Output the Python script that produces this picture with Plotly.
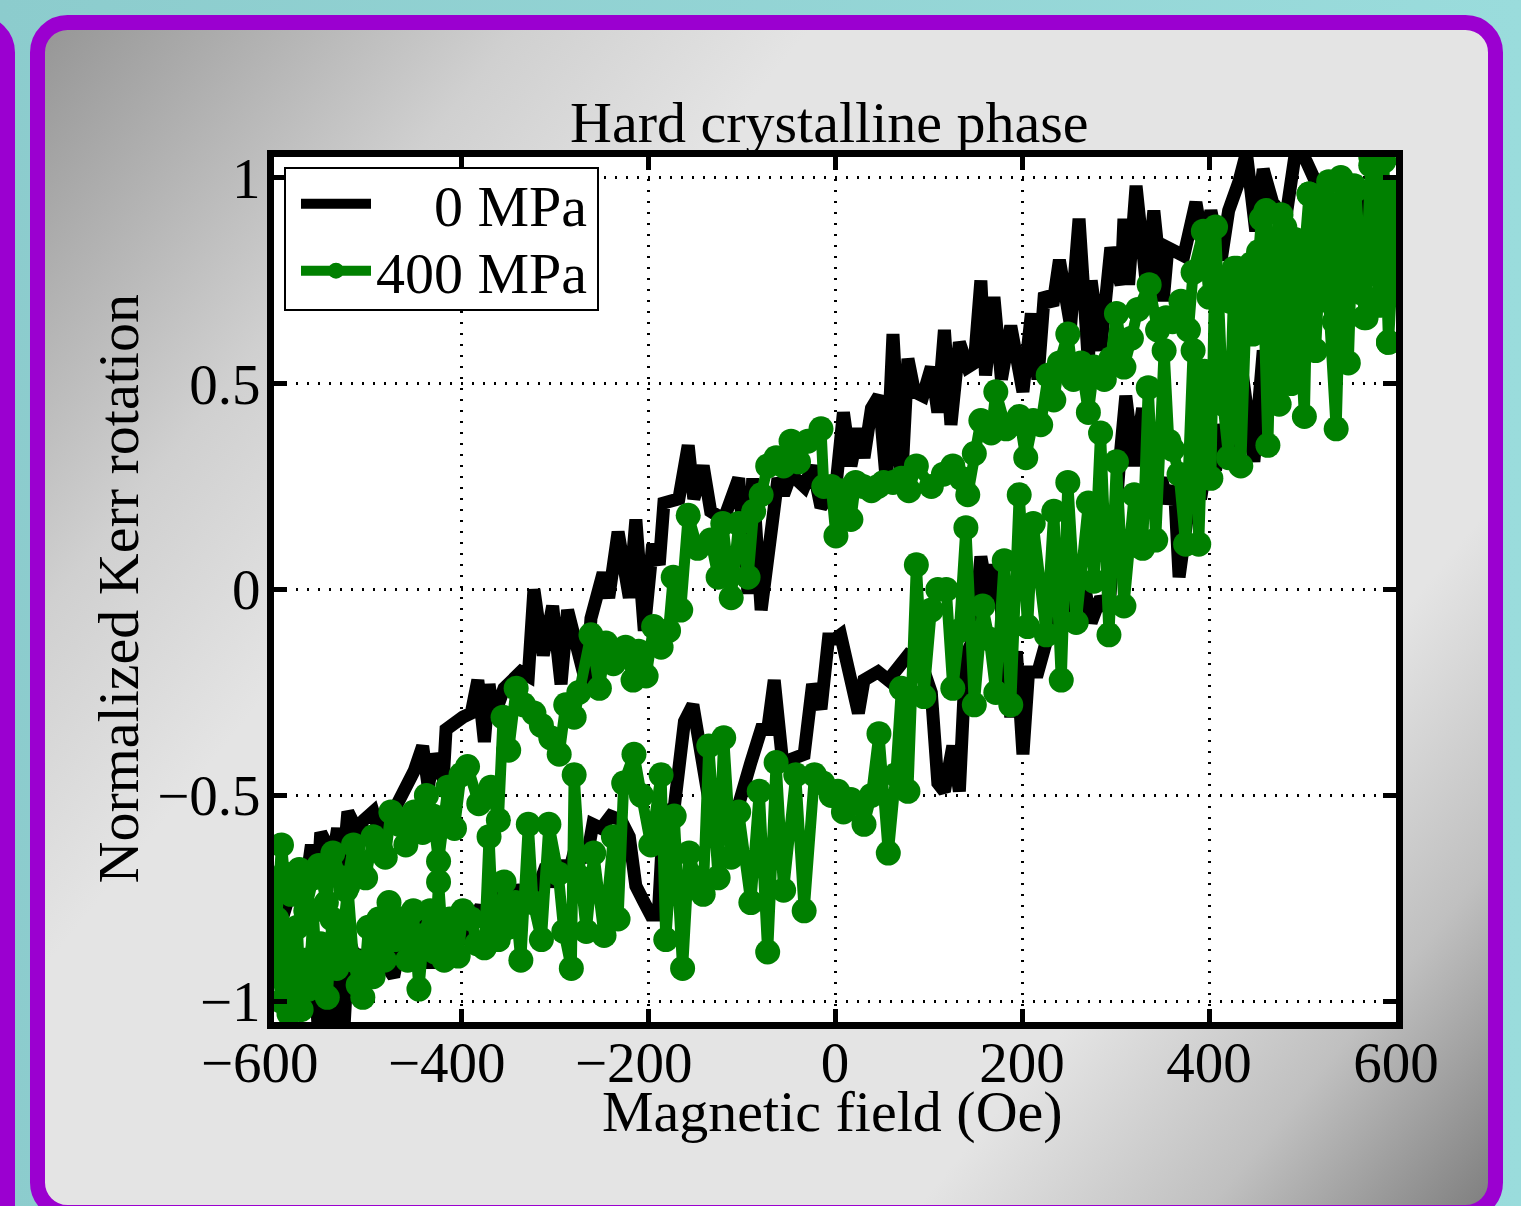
import base64
import plotly.graph_objects as go

# ---------------- data ----------------
# 0 MPa, field decreasing (upper branch)
field_0_desc = [600, 589, 582, 568, 557, 547, 536, 525, 518, 504,
                493, 482, 468, 458, 450, 440, 432, 421, 413, 402,
                395, 386, 373, 365, 356, 351, 341, 333, 322, 314,
                309, 306, 295, 284, 274, 271, 261, 252, 240, 233,
                224, 217, 210, 201, 188, 178, 170, 161, 156, 149,
                142, 133, 124, 117, 110, 103, 94, 85, 78, 71,
                62, 55, 47, 39, 31, 25, 17, 9, 1, -15,
                -24, -33, -47, -55, -61, -79, -88, -93, -103, -119,
                -133, -141, -151, -157, -167, -183, -188, -195, -204, -213,
                -220, -232, -242, -248, -261, -266, -286, -293, -302, -312,
                -322, -328, -336, -354, -365, -370, -375, -382, -389, -398,
                -405, -416, -419, -429, -435, -441, -450, -459, -467, -477,
                -486, -494, -504, -510, -521, -526, -532, -537, -550, -553,
                -560, -568, -574, -582, -589, -598]
kerr_0_desc = [0.94, 0.70, 1.03, 0.80, 1.00, 0.82, 0.94, 0.73, 0.97, 1.04,
               1.07, 0.90, 0.94, 1.02, 0.87, 1.06, 0.99, 0.92, 0.80, 0.92,
               0.82, 0.94, 0.81, 0.82, 0.83, 0.70, 0.92, 0.74, 0.98, 0.74,
               0.90, 0.74, 0.83, 0.58, 0.75, 0.55, 0.90, 0.64, 0.80, 0.69,
               0.72, 0.51, 0.67, 0.48, 0.64, 0.51, 0.71, 0.52, 0.75, 0.55,
               0.54, 0.60, 0.40, 0.63, 0.43, 0.54, 0.47, 0.48, 0.56, 0.25,
               0.62, 0.26, 0.47, 0.44, 0.32, 0.39, 0.30, 0.43, 0.25, 0.20,
               0.30, 0.25, 0.28, 0.23, 0.27, -0.05, 0.27, -0.01, 0.27, 0.17,
               0.19, 0.30, 0.22, 0.35, 0.22, 0.21, 0.06, 0.11, -0.10, 0.17,
               -0.02, 0.14, -0.02, 0.04, -0.07, -0.23, -0.05, -0.23, -0.04, -0.16,
               0.00, -0.21, -0.20, -0.24, -0.31, -0.23, -0.37, -0.22, -0.30, -0.31,
               -0.32, -0.34, -0.46, -0.40, -0.48, -0.38, -0.44, -0.48, -0.50, -0.55,
               -0.60, -0.54, -0.56, -0.59, -0.54, -0.67, -0.58, -0.65, -0.59, -0.71,
               -0.62, -0.75, -0.71, -0.73, -0.78, -0.85]

# 0 MPa, field increasing (lower branch)
field_0_asc = [-598, -590, -582, -574, -566, -558, -552, -544, -539, -532,
               -526, -520, -512, -505, -498, -491, -486, -478, -472, -464,
               -453, -445, -437, -432, -426, -419, -411, -402, -395, -387,
               -379, -371, -363, -352, -344, -336, -328, -320, -309, -302,
               -293, -286, -277, -266, -259, -250, -240, -229, -220, -213,
               -204, -197, -189, -183, -172, -161, -152, -143, -135, -122,
               -104, -90, -79, -72, -65, -56, -45, -33, -24, -15,
               -7, 0, 6, 15, 25, 31, 39, 46, 57, 67,
               78, 87, 94, 103, 110, 117, 126, 133, 140, 148,
               156, 164, 170, 178, 188, 194, 201, 207, 217, 228,
               236, 244, 252, 265, 274, 284, 293, 304, 311, 320,
               329, 338, 349, 356, 363, 368, 375, 383, 391, 400,
               407, 415, 424, 434, 443, 448, 458, 466, 477, 488,
               498, 506, 512, 520, 530, 541, 550, 555, 563, 571,
               579, 588, 597]
kerr_0_asc = [-0.90, -0.97, -0.80, -0.92, -1.00, -0.85, -1.10, -0.95, -1.10, -0.88,
              -1.10, -0.85, -0.90, -0.88, -0.95, -0.82, -0.90, -0.92, -0.94, -0.85,
              -0.82, -0.86, -0.80, -0.92, -0.78, -0.84, -0.80, -0.77, -0.86, -0.80,
              -0.77, -0.82, -0.74, -0.79, -0.72, -0.76, -0.70, -0.74, -0.67, -0.72,
              -0.66, -0.70, -0.62, -0.66, -0.57, -0.58, -0.55, -0.56, -0.60, -0.72,
              -0.76, -0.79, -0.79, -0.54, -0.53, -0.32, -0.28, -0.43, -0.51, -0.52,
              -0.53, -0.42, -0.34, -0.34, -0.22, -0.42, -0.41, -0.40, -0.23, -0.29,
              -0.12, -0.12, -0.11, -0.20, -0.30, -0.22, -0.21, -0.20, -0.22, -0.19,
              -0.16, -0.17, -0.19, -0.25, -0.47, -0.49, -0.38, -0.49, -0.16, -0.12,
              0.08, -0.02, 0.06, -0.05, -0.31, -0.15, -0.40, -0.20, -0.20, -0.11,
              -0.02, -0.06, 0.00, 0.03, -0.08, -0.02, -0.05, 0.30, 0.47, 0.30,
              0.44, 0.22, 0.27, 0.21, 0.25, 0.03, 0.17, 0.28, 0.22, 0.35,
              0.29, 0.40, 0.34, 0.55, 0.40, 0.31, 0.58, 0.50, 0.65, 0.60,
              0.74, 0.85, 0.80, 0.87, 0.75, 0.88, 0.78, 0.74, 0.90, 0.82,
              0.95, 0.72, 0.80]

# 400 MPa, field decreasing (upper branch)
field_400_desc = [600, 592, 587, 581, 573, 566, 557, 550, 541, 534,
                  528, 520, 512, 507, 498, 492, 484, 477, 468, 461,
                  453, 445, 437, 430, 422, 415, 407, 400, 394, 383,
                  378, 370, 361, 354, 345, 336, 324, 317, 309, 301,
                  295, 288, 281, 277, 271, 263, 255, 249, 240, 234,
                  228, 220, 212, 204, 197, 188, 183, 172, 167, 156,
                  149, 142, 135, 126, 116, 103, 87, 79, 71, 62,
                  52, 46, 39, 30, 22, 17, 9, 1, -4, -12,
                  -15, -29, -39, -47, -55, -63, -72, -79, -87, -93,
                  -103, -111, -120, -125, -133, -147, -157, -165, -173, -178,
                  -186, -194, -202, -210, -216, -224, -237, -245, -252, -261,
                  -274, -279, -288, -295, -304, -314, -322, -333, -341, -349,
                  -355, -360, -368, -381, -393, -400, -407, -414, -424, -430,
                  -437, -441, -450, -459, -466, -475, -481, -486, -494, -502,
                  -509, -515, -523, -528, -537, -544, -552, -558, -566, -573,
                  -582, -589, -592, -597]
kerr_400_desc = [0.97, 0.60, 1.04, 0.87, 1.03, 0.66, 0.97, 0.85, 1.00, 0.65,
                 0.99, 0.92, 0.84, 0.96, 0.70, 0.85, 0.80, 0.91, 0.73, 0.92,
                 0.82, 0.79, 0.74, 0.78, 0.70, 0.73, 0.75, 0.71, 0.87, 0.77,
                 0.63, 0.70, 0.65, 0.66, 0.63, 0.74, 0.68, 0.61, 0.54, 0.67,
                 0.56, 0.51, 0.52, 0.54, 0.43, 0.55, 0.51, 0.62, 0.55, 0.46,
                 0.52, 0.40, 0.41, 0.32, 0.42, 0.40, 0.39, 0.48, 0.38, 0.41,
                 0.33, 0.23, 0.27, 0.30, 0.28, 0.25, 0.30, 0.24, 0.27, 0.26,
                 0.26, 0.25, 0.24, 0.25, 0.26, 0.17, 0.24, 0.13, 0.25, 0.25,
                 0.39, 0.36, 0.31, 0.36, 0.30, 0.32, 0.30, 0.23, 0.19, 0.03,
                 0.16, -0.02, 0.16, 0.03, 0.12, 0.10, 0.18, -0.05, 0.03, -0.10,
                 -0.14, -0.09, -0.21, -0.15, -0.22, -0.14, -0.18, -0.13, -0.24, -0.11,
                 -0.25, -0.31, -0.28, -0.40, -0.36, -0.33, -0.30, -0.28, -0.24, -0.39,
                 -0.31, -0.56, -0.48, -0.52, -0.43, -0.45, -0.58, -0.48, -0.66, -0.55,
                 -0.50, -0.59, -0.54, -0.62, -0.57, -0.54, -0.65, -0.63, -0.60, -0.70,
                 -0.66, -0.62, -0.73, -0.70, -0.64, -0.76, -0.67, -0.70, -0.78, -0.68,
                 -0.74, -0.69, -0.62, -0.80]

# 400 MPa, field increasing (lower branch)
field_400_asc = [-597, -592, -588, -584, -580, -575, -571, -567, -563, -558,
                 -554, -550, -543, -538, -533, -527, -521, -515, -510, -505,
                 -499, -494, -488, -482, -477, -471, -464, -457, -451, -445,
                 -440, -433, -428, -424, -418, -412, -403, -398, -389, -383,
                 -375, -370, -366, -360, -354, -349, -342, -336, -328, -323,
                 -314, -306, -296, -290, -282, -279, -272, -266, -258, -247,
                 -237, -232, -226, -215, -207, -197, -186, -181, -172, -163,
                 -156, -149, -141, -135, -125, -119, -111, -103, -90, -81,
                 -72, -63, -55, -42, -33, -22, -13, -4, 3, 9,
                 17, 25, 31, 39, 47, 57, 65, 71, 78, 87,
                 95, 103, 110, 119, 126, 133, 140, 149, 158, 165,
                 172, 181, 188, 197, 206, 212, 226, 234, 242, 249,
                 258, 271, 277, 284, 293, 301, 309, 320, 329, 335,
                 343, 352, 357, 361, 368, 375, 383, 389, 395, 402,
                 407, 415, 421, 427, 434, 440, 447, 456, 463, 468,
                 475, 481, 488, 495, 502, 507, 514, 522, 528, 536,
                 542, 549, 555, 563, 568, 573, 582, 587, 592, 598]
kerr_400_asc = [-0.92, -1.00, -0.85, -1.03, -0.95, -0.82, -1.02, -0.90, -0.97, -0.78,
                -0.95, -0.86, -0.99, -0.80, -0.92, -0.85, -0.72, -0.90, -0.96, -0.99,
                -0.82, -0.94, -0.80, -0.90, -0.76, -0.85, -0.80, -0.90, -0.78, -0.97,
                -0.84, -0.78, -0.88, -0.71, -0.90, -0.80, -0.89, -0.78, -0.80, -0.86,
                -0.87, -0.60, -0.80, -0.85, -0.71, -0.82, -0.76, -0.90, -0.57, -0.76,
                -0.85, -0.57, -0.69, -0.83, -0.92, -0.45, -0.70, -0.83, -0.64, -0.84,
                -0.60, -0.80, -0.47, -0.40, -0.50, -0.62, -0.45, -0.85, -0.55, -0.92,
                -0.64, -0.70, -0.74, -0.38, -0.70, -0.36, -0.65, -0.54, -0.76, -0.49,
                -0.88, -0.42, -0.73, -0.45, -0.78, -0.45, -0.47, -0.50, -0.49, -0.54,
                -0.51, -0.52, -0.57, -0.50, -0.35, -0.64, -0.45, -0.24, -0.49, 0.06,
                -0.26, -0.05, 0.00, 0.00, -0.24, -0.10, 0.15, -0.28, -0.04, -0.12,
                -0.25, 0.07, -0.28, 0.23, -0.09, 0.16, -0.11, 0.19, -0.22, 0.26,
                -0.08, 0.21, 0.02, 0.38, -0.11, 0.31, -0.04, 0.23, 0.10, 0.49,
                0.12, 0.58, 0.36, 0.34, 0.28, 0.11, 0.58, 0.11, 0.53, 0.27,
                0.88, 0.45, 0.32, 0.78, 0.30, 0.70, 0.62, 0.90, 0.35, 0.85,
                0.45, 0.88, 0.50, 0.75, 0.42, 0.96, 0.58, 0.95, 0.70, 0.39,
                0.88, 0.55, 0.98, 0.72, 0.66, 1.05, 0.69, 0.95, 0.60, 0.85]

x_ticks = [-600, -400, -200, 0, 200, 400, 600]
x_tick_labels = ["\u2212600\u2002", "\u2212400\u2002", "\u2212200\u2002", "0", "200", "400", "600"]
y_ticks = [-1, -0.5, 0, 0.5, 1]
series_names = ["\u00a0\u00a0\u00a0\u00a00 MPa", "400 MPa"]
title_text = "Hard crystalline phase"
x_title = "Magnetic field (Oe)"
y_title = "Normalized Kerr rotation"

# ---------------- geometry / style ----------------
W, H = 1521, 1206
ML, MR, MT, MB = 274, 125, 157, 184
PW, PH = W - ML - MR, H - MT - MB
FONT = "Liberation Serif, Times New Roman, serif"
GREEN = "#008000"


def px_x(p):
    return (p - ML) / PW


def px_y(p):
    return 1 - (p - MT) / PH


bg_svg = f'''<svg xmlns="http://www.w3.org/2000/svg" width="{W}" height="{H}" viewBox="0 0 {W} {H}">
<defs>
<linearGradient id="g" gradientUnits="userSpaceOnUse" x1="38" y1="23" x2="1496" y2="1213">
<stop offset="0" stop-color="#959595"/>
<stop offset="0.2" stop-color="#d0d0d0"/>
<stop offset="0.32" stop-color="#e4e4e4"/>
<stop offset="0.76" stop-color="#e4e4e4"/>
<stop offset="0.88" stop-color="#c0c0c0"/>
<stop offset="1" stop-color="#7c7c7c"/>
</linearGradient>
<linearGradient id="t" x1="0" y1="0" x2="1" y2="0">
<stop offset="0" stop-color="#8ccccd"/>
<stop offset="1" stop-color="#9adcdc"/>
</linearGradient>
</defs>
<rect width="{W}" height="{H}" fill="url(#t)"/>
<rect x="-120.5" y="22.5" width="128" height="1300" rx="30" fill="#dcdcdc" stroke="#9b00d0" stroke-width="15"/>
<rect x="37.5" y="22.5" width="1458" height="1190" rx="30" fill="url(#g)" stroke="#9b00d0" stroke-width="15"/>
</svg>'''
bg_uri = "data:image/svg+xml;base64," + base64.b64encode(bg_svg.encode()).decode()

fig = go.Figure()
fig.add_trace(go.Scatter(
    x=field_0_desc + field_0_asc, y=kerr_0_desc + kerr_0_asc,
    mode="lines", name=series_names[0], legend="legend",
    line=dict(color="black", width=13)))
fig.add_trace(go.Scatter(
    x=field_400_desc + field_400_asc, y=kerr_400_desc + kerr_400_asc,
    mode="lines+markers", name=series_names[1], legend="legend2",
    line=dict(color=GREEN, width=11),
    marker=dict(size=25, color=GREEN)))

axis_common = dict(
    showline=True, linewidth=7, linecolor="black", mirror="ticks",
    ticks="inside", ticklen=13, tickwidth=5, tickcolor="black",
    showgrid=True, gridcolor="black", gridwidth=2.5, griddash="2px,9px",
    zeroline=False, tickfont=dict(family=FONT, size=57, color="black"),
)
fig.update_xaxes(range=[-600, 600], tickmode="array", tickvals=x_ticks,
                 ticktext=x_tick_labels, ticklabelstandoff=-15, **axis_common)
fig.update_yaxes(range=[-1.05, 1.05], tickmode="array", tickvals=y_ticks,
                 ticklabelstandoff=-5, **axis_common)

legend_common = dict(xanchor="left", yanchor="middle", bgcolor="rgba(0,0,0,0)",
                     borderwidth=0, itemwidth=70,
                     font=dict(family=FONT, size=58, color="black"))

fig.update_layout(
    width=W, height=H, autosize=False,
    margin=dict(l=ML, r=MR, t=MT, b=MB, pad=0),
    paper_bgcolor="#8ecfd0", plot_bgcolor="white",
    font=dict(family=FONT, size=57, color="black"),
    showlegend=True,
    legend=dict(x=px_x(296), y=px_y(204), **legend_common),
    legend2=dict(x=px_x(296), y=px_y(271), **legend_common),
    images=[dict(source=bg_uri, xref="paper", yref="paper",
                 x=-ML / PW, y=1 + MT / PH, sizex=W / PW, sizey=H / PH,
                 xanchor="left", yanchor="top", sizing="stretch", layer="below")],
    shapes=[
        dict(type="rect", xref="paper", yref="paper", x0=0, x1=1, y0=0, y1=1,
             fillcolor="white", line=dict(width=0), layer="below"),
        dict(type="rect", xref="paper", yref="paper",
             x0=px_x(285), x1=px_x(598), y0=px_y(310), y1=px_y(168),
             fillcolor="white", line=dict(color="black", width=2), layer="above"),
    ],
    annotations=[
        dict(text=title_text, xref="paper", yref="paper", x=0.495, y=px_y(123),
             xanchor="center", yanchor="middle", showarrow=False,
             font=dict(family=FONT, size=58, color="black")),
        dict(text=x_title, xref="paper", yref="paper", x=0.498, y=px_y(1111),
             xanchor="center", yanchor="middle", showarrow=False,
             font=dict(family=FONT, size=58, color="black")),
        dict(text=y_title, xref="paper", yref="paper", x=px_x(118), y=0.5,
             xanchor="center", yanchor="middle", showarrow=False, textangle=-90,
             font=dict(family=FONT, size=58, color="black")),
    ],
)

fig.write_html("out.html", config={"displayModeBar": False})
